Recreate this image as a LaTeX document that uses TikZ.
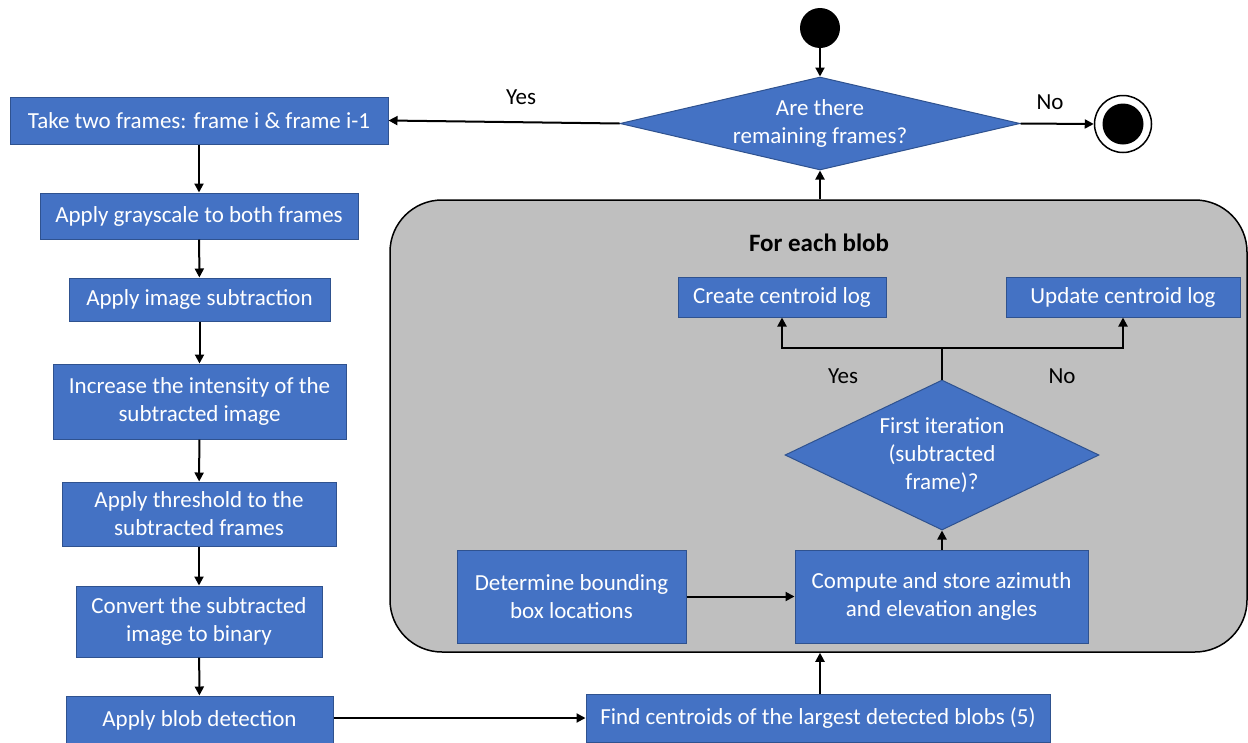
\documentclass[tikz,border=0pt]{standalone}
\usepackage{fontspec}
\setmainfont{Carlito}
\usetikzlibrary{shapes.geometric,arrows.meta,calc}
\definecolor{boxblue}{HTML}{4472C4}
\definecolor{boxedge}{HTML}{2F528F}
\definecolor{panelgray}{HTML}{BFBFBF}

\begin{document}
\begin{tikzpicture}[x=1pt,y=-1pt,
  every node/.style={font=\fontsize{23}{28}\selectfont},
  stepbox/.style={rectangle, fill=boxblue, draw=boxedge, line width=1pt,
    text=white, align=center, inner sep=0pt},
  decision/.style={diamond, fill=boxblue, draw=boxedge, line width=1pt,
    inner sep=0pt},
  dtext/.style={text=white, align=center},
  flow/.style={draw=black, line width=2pt, -{Triangle[length=9pt,width=9pt]}},
  plain/.style={draw=black, line width=2pt},
  lbl/.style={text=black}]

\useasboundingbox (0,0) rectangle (1248,742);

% loop body panel
\node (panel) [draw=black, line width=1.5pt, fill=panelgray, rounded corners=52pt,
  minimum width=857pt, minimum height=452pt, inner sep=0pt] at (818.5,426) {};
\node (title) [lbl, font=\fontsize{25}{30}\selectfont\bfseries] at (819,243) {For each blob};

% start / end markers
\node (start) [circle, fill=black, minimum size=40pt, inner sep=0pt] at (820,28) {};
\node (finish) [circle, draw=black, line width=1.5pt, fill=white, minimum size=57pt, inner sep=0pt] at (1123,124) {};
\node (finishdot) [circle, fill=black, minimum size=41pt, inner sep=0pt] at (finish) {};

% main decision
\node (d1) [decision, minimum width=400pt, minimum height=93pt,
  label={[dtext]center:{Are there\\remaining frames?}}] at (820,123.5) {};

% left column
\node (take)   [stepbox, minimum width=378pt, minimum height=47pt] at (199,120.5) {Take two frames: frame i \& frame i-1};
\node (gray)   [stepbox, minimum width=318pt, minimum height=46pt] at (199,216) {Apply grayscale to both frames};
\node (sub)    [stepbox, minimum width=261pt, minimum height=43pt] at (199.5,299.5) {Apply image subtraction};
\node (inten)  [stepbox, minimum width=293pt, minimum height=75pt] at (199.5,401.5) {Increase the intensity of the\\subtracted image};
\node (thresh) [stepbox, minimum width=274pt, minimum height=64pt] at (199,514) {Apply threshold to the\\subtracted frames};
\node (conv)   [stepbox, minimum width=246pt, minimum height=71pt] at (199,621.5) {Convert the subtracted\\image to binary};
\node (blob)   [stepbox, minimum width=267pt, minimum height=48pt] at (199.5,720) {Apply blob detection};
\node (find)   [stepbox, minimum width=464pt, minimum height=48pt] at (818,718) {Find centroids of the largest detected blobs (5)};

% inside the panel
\node (create)  [stepbox, minimum width=208pt, minimum height=40pt] at (782,297) {Create centroid log};
\node (update)  [stepbox, minimum width=234pt, minimum height=40pt] at (1123,297) {Update centroid log};
\node (d2) [decision, minimum width=314pt, minimum height=150pt,
  label={[dtext]center:{First iteration\\(subtracted\\frame)?}}] at (942,455) {};
\node (bound)   [stepbox, minimum width=229pt, minimum height=93pt] at (571.5,596.5) {Determine bounding\\box locations};
\node (compute) [stepbox, minimum width=293pt, minimum height=93pt] at (941.5,596.5) {Compute and store azimuth\\and elevation angles};

% branch labels
\node (yes1) [lbl] at (521,97) {Yes};
\node (no1)  [lbl] at (1050,102) {No};
\node (yes2) [lbl] at (843,376) {Yes};
\node (no2)  [lbl] at (1062,376) {No};

% connectors
\draw[flow] (start) -- (d1.north);
\draw[flow] (d1.east) -- (finish.west);
\draw[flow] (d1.west) -- (take.east);
\draw[flow] (take) -- (gray);
\draw[flow] (gray) -- (sub);
\draw[flow] (sub) -- (inten);
\draw[flow] (inten) -- (thresh);
\draw[flow] (thresh) -- (conv);
\draw[flow] (conv) -- (blob);
\draw[flow] (blob.east |- find.west) -- (find.west);
\draw[flow] (find.north -| start) -- (start |- panel.south);
\draw[flow] (d1.south |- panel.north) -- (d1.south);
\draw[flow] (bound.east) -- (compute.west);
\draw[flow] (compute.north -| d2) -- (d2.south);
\draw[plain] (d2.north) -- ++(0,-32) coordinate (split);
\draw[flow] (split) -| (create.south);
\draw[flow] (split) -| (update.south);

\end{tikzpicture}
\end{document}
